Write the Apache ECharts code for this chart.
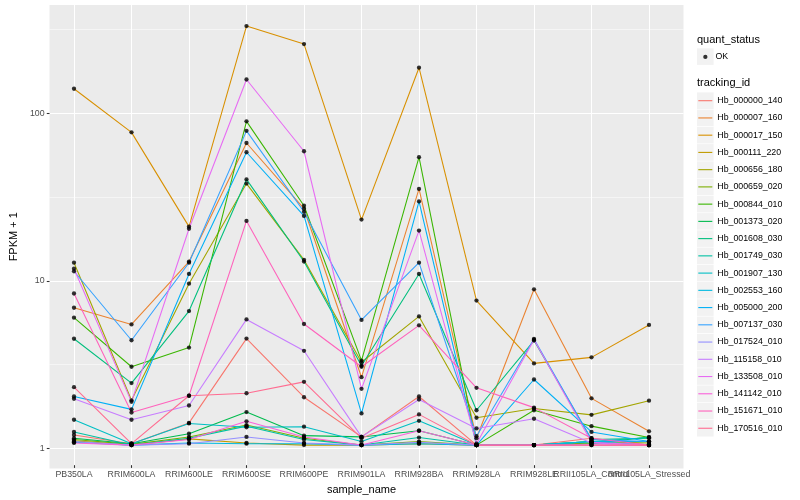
<!DOCTYPE html>
<html>
<head>
<meta charset="utf-8">
<script src="https://cdn.jsdelivr.net/npm/echarts@6/dist/echarts.min.js"></script>
<style>html,body{margin:0;padding:0;background:#fff}#c{width:800px;height:500px}</style>
</head>
<body>
<div id="c"></div>
<script>
// ---------- data ----------
const categories = ['PB350LA','RRIM600LA','RRIM600LE','RRIM600SE','RRIM600PE','RRIM901LA','RRIM928BA','RRIM928LA','RRIM928LE','RRII105LA_Control','RRII105LA_Stressed'];
const trackingIds = ['Hb_000000_140','Hb_000007_160','Hb_000017_150','Hb_000111_220','Hb_000656_180','Hb_000659_020','Hb_000844_010','Hb_001373_020','Hb_001608_030','Hb_001749_030','Hb_001907_130','Hb_002553_160','Hb_005000_200','Hb_007137_030','Hb_017524_010','Hb_115158_010','Hb_133508_010','Hb_141142_010','Hb_151671_010','Hb_170516_010'];
const Hb_000000_140 = [1.15, 1.02, 1.36, 4.37, 1.94, 1.12, 1.96, 1.0, 1.0, 1.1, 1.0];
const Hb_000007_160 = [6.7, 5.32, 12.7, 65.6, 26.4, 2.56, 34.7, 1.1, 8.65, 1.91, 1.21];
const Hb_000017_150 = [139, 76, 20.6, 331, 258, 22.7, 186, 7.4, 3.1, 3.37, 5.28];
const Hb_000111_220 = [1.06, 1.0, 1.09, 1.03, 1.0, 1.0, 1.02, 1.0, 1.0, 1.03, 1.0];
const Hb_000656_180 = [12.5, 1.86, 9.35, 37.4, 13.0, 3.15, 5.94, 1.46, 1.66, 1.52, 1.85];
const Hb_000659_020 = [1.08, 1.01, 1.12, 1.32, 1.1, 1.0, 1.05, 1.0, 1.0, 1.05, 1.03];
const Hb_000844_010 = [5.84, 2.96, 3.86, 88.5, 27.5, 3.22, 53.9, 1.0, 1.62, 1.3, 1.11];
const Hb_001373_020 = [1.1, 1.02, 1.17, 1.58, 1.14, 1.12, 1.22, 1.0, 1.0, 1.02, 1.12];
const Hb_001608_030 = [4.36, 2.36, 6.4, 39.6, 12.7, 3.0, 10.7, 1.62, 4.25, 1.08, 1.1];
const Hb_001749_030 = [1.2, 1.0, 1.1, 1.3, 1.08, 1.0, 1.11, 1.0, 1.0, 1.05, 1.11];
const Hb_001907_130 = [1.42, 1.02, 1.35, 1.28, 1.29, 1.05, 1.4, 1.0, 1.0, 1.05, 1.0];
const Hb_002553_160 = [1.04, 1.0, 1.03, 1.02, 1.02, 1.0, 1.02, 1.0, 1.0, 1.05, 1.05];
const Hb_005000_200 = [1.96, 1.64, 10.7, 57.7, 23.9, 1.55, 29.2, 1.0, 2.48, 1.2, 1.05];
const Hb_007137_030 = [11.1, 4.27, 12.5, 77.6, 25.3, 5.66, 12.5, 1.13, 4.35, 1.08, 1.05];
const Hb_017524_010 = [1.05, 1.0, 1.02, 1.12, 1.03, 1.0, 1.04, 1.0, 1.0, 1.0, 1.0];
const Hb_115158_010 = [1.9, 1.42, 1.73, 5.7, 3.69, 1.12, 1.88, 1.26, 1.44, 1.03, 1.0];
const Hb_133508_010 = [11.5, 1.82, 20.0, 158, 58.5, 2.18, 19.5, 1.02, 4.3, 1.04, 1.0];
const Hb_141142_010 = [1.03, 1.0, 1.08, 1.39, 1.12, 1.0, 1.22, 1.0, 1.0, 1.0, 1.0];
const Hb_151671_010 = [8.16, 1.57, 1.98, 22.3, 5.35, 2.96, 5.25, 2.21, 1.68, 1.1, 1.0];
const Hb_170516_010 = [2.23, 1.02, 1.98, 2.05, 2.4, 1.1, 1.53, 1.0, 1.0, 1.0, 1.0];
const seriesValues = [Hb_000000_140, Hb_000007_160, Hb_000017_150, Hb_000111_220, Hb_000656_180, Hb_000659_020, Hb_000844_010, Hb_001373_020, Hb_001608_030, Hb_001749_030, Hb_001907_130, Hb_002553_160, Hb_005000_200, Hb_007137_030, Hb_017524_010, Hb_115158_010, Hb_133508_010, Hb_141142_010, Hb_151671_010, Hb_170516_010];
const yTickValues = [1, 10, 100];
const yMinorValues = [3.1623, 31.623, 316.23];

// ---------- styles ----------
const colors = ['#F8766D','#EA8331','#D89000','#C09B00','#A3A500','#7CAE00','#39B600','#00BB4E','#00BF7D','#00C1A3','#00BFC4','#00BAE0','#00B0F6','#35A2FF','#9590FF','#C77CFF','#E76BF3','#FA62DB','#FF62BC','#FF6C91'];
const FONT = '"Liberation Sans", Arial, Helvetica, sans-serif';
const yMin = 0.7575, yMax = 443.3;
const ROW = 17.24;

const chart = echarts.init(document.getElementById('c'), null, {renderer: 'canvas'});

const lineSeries = trackingIds.map((id, k) => ({
  name: id, type: 'line', xAxisIndex: 1, yAxisIndex: 1,
  data: seriesValues[k].slice(),
  symbol: 'none', showSymbol: false, clip: false, silent: true, z: 2,
  lineStyle: {color: colors[k], width: 1.07},
  itemStyle: {color: colors[k]}
}));
const okPoints = [];
seriesValues.forEach(arr => arr.forEach((v, i) => okPoints.push([i, v])));
const pointSeries = {
  name: 'OK', type: 'scatter', xAxisIndex: 1, yAxisIndex: 1,
  data: okPoints, symbol: 'circle', symbolSize: 4.3, clip: false, silent: true, z: 5,
  itemStyle: {color: '#000'}
};
const gridSeries = {
  name: '_minor', type: 'line', xAxisIndex: 0, yAxisIndex: 0,
  data: [[0.5, 1]], symbol: 'none', lineStyle: {opacity: 0}, silent: true, z: 1,
  markLine: {
    silent: true, symbol: 'none', z: 1, animation: false,
    label: {show: false},
    lineStyle: {color: '#ffffff', width: 0.53, type: 'solid'},
    emphasis: {disabled: true},
    data: yMinorValues.map(v => ({yAxis: v}))
  }
};

const keyRects = [];
keyRects.push({type: 'rect', left: 697, top: 48.3, shape: {width: 16.6, height: 16.6}, style: {fill: '#F2F2F2'}, z: -1, silent: true});
trackingIds.forEach((id, k) => {
  keyRects.push({type: 'rect', left: 697, top: 92.4 + k * ROW, shape: {width: 16.6, height: 16.6}, style: {fill: '#F2F2F2'}, z: -1, silent: true});
});

const option = {
  animation: false,
  textStyle: {fontFamily: FONT},
  title: [
    {text: 'quant_status', left: 697, top: 34.5, padding: 0, textStyle: {fontSize: 11, fontWeight: 'normal', color: '#000', fontFamily: FONT}},
    {text: 'tracking_id', left: 697, top: 77.5, padding: 0, textStyle: {fontSize: 11, fontWeight: 'normal', color: '#000', fontFamily: FONT}}
  ],
  graphic: keyRects,
  grid: [
    {left: 40, right: 116.5, top: 5, bottom: 31.5, show: true, backgroundColor: '#EBEBEB', borderWidth: 0},
    {left: 74, right: 151, top: 5, bottom: 31.5}
  ],
  xAxis: [
    {gridIndex: 0, type: 'value', min: 0, max: 1, show: false},
    {gridIndex: 1, type: 'category', data: categories, boundaryGap: false,
     axisLine: {show: false},
     axisTick: {show: true, interval: 0, alignWithLabel: true, length: 2.75, lineStyle: {color: '#333333', width: 1.07}},
     axisLabel: {interval: 0, margin: 4.95, color: '#4D4D4D', fontSize: 8.8, fontFamily: FONT, hideOverlap: false},
     splitLine: {show: true, interval: 0, lineStyle: {color: '#ffffff', width: 1.07}},
     name: 'sample_name', nameLocation: 'middle', nameGap: 13.5,
     nameTextStyle: {color: '#000', fontSize: 11, fontFamily: FONT}}
  ],
  yAxis: [
    {gridIndex: 0, type: 'log', logBase: 10, min: yMin, max: yMax,
     axisLine: {show: false},
     axisTick: {show: true, length: 2.75, customValues: yTickValues, lineStyle: {color: '#333333', width: 1.07}},
     axisLabel: {customValues: yTickValues, margin: 4.95, color: '#4D4D4D', fontSize: 8.8, fontFamily: FONT,
       formatter: v => { const r = Math.round(v * 1000) / 1000; return yTickValues.indexOf(r) >= 0 ? String(r) : ''; }},
     splitLine: {show: true, lineStyle: {color: '#ffffff', width: 1.07}},
     minorTick: {show: false}, minorSplitLine: {show: false},
     name: 'FPKM + 1', nameLocation: 'middle', nameRotate: 90, nameGap: 21.5,
     nameTextStyle: {color: '#000', fontSize: 11, fontFamily: FONT}},
    {gridIndex: 1, type: 'log', logBase: 10, min: yMin, max: yMax, show: false, splitLine: {show: false}}
  ],
  legend: [
    {data: [{name: 'OK', icon: 'circle', itemStyle: {color: '#000'}}],
     orient: 'vertical', left: 703.2, top: 56.9 - ROW / 2, itemWidth: 4.3, itemHeight: 4.3, itemGap: 0, padding: 0,
     selectedMode: false, textStyle: {fontSize: 8.8, color: '#000', fontFamily: FONT, lineHeight: ROW, padding: [0, 0, 0, 3]}},
    {data: trackingIds.map((id, k) => ({name: id, icon: 'rect', itemStyle: {color: colors[k]}})),
     orient: 'vertical', left: 698.3, top: 100.7 - ROW / 2, itemWidth: 14, itemHeight: 1.1, itemGap: 0, padding: 0,
     selectedMode: false, textStyle: {fontSize: 8.8, color: '#000', fontFamily: FONT, lineHeight: ROW}}
  ],
  series: [gridSeries].concat(lineSeries).concat([pointSeries])
};
chart.setOption(option);
</script>
</body>
</html>
